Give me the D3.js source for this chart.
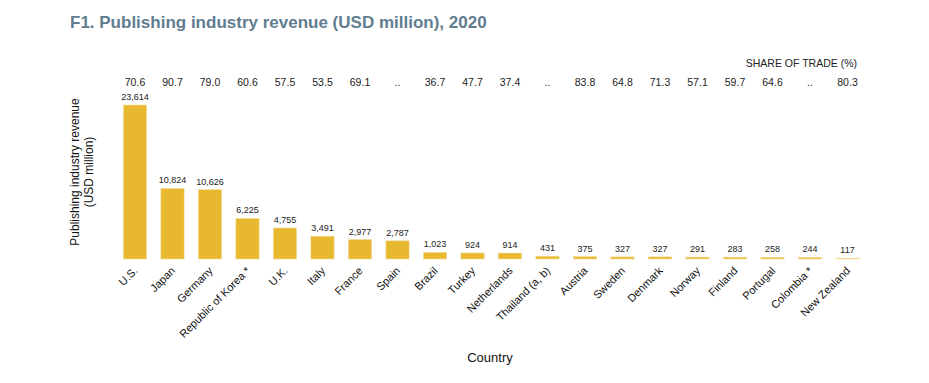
<!DOCTYPE html>
<html>
<head>
    <meta charset="utf-8">
    <title>Publishing industry revenue</title>
    <script src="https://d3js.org/d3.v7.min.js"></script>
    <style>
        body { margin: 0; background: #fff; font-family: "Liberation Sans", Arial, sans-serif; }
    </style>
</head>
<body>
    <div id="chart"></div>
    <script>
        var countries = ["U.S.", "Japan", "Germany", "Republic of Korea *", "U.K.", "Italy", "France", "Spain",
            "Brazil", "Turkey", "Netherlands", "Thailand (a, b)", "Austria", "Sweden", "Denmark", "Norway",
            "Finland", "Portugal", "Colombia *", "New Zealand"];
        var revenue = [23614, 10824, 10626, 6225, 4755, 3491, 2977, 2787, 1023, 924, 914, 431, 375, 327, 327,
            291, 283, 258, 244, 117];
        var shareOfTrade = ["70.6", "90.7", "79.0", "60.6", "57.5", "53.5", "69.1", "..", "36.7", "47.7", "37.4",
            "..", "83.8", "64.8", "71.3", "57.1", "59.7", "64.6", "..", "80.3"];

        var W = 929, H = 383;
        var baseY = 259, topY = 105;

        var svg = d3.select("#chart")
            .append("svg")
                .attr("width", W)
                .attr("height", H);

        svg.append("text")
            .attr("x", 70)
            .attr("y", 28)
            .style("font-family", "Liberation Sans, Arial, sans-serif")
            .style("font-weight", "bold")
            .style("font-size", "17px")
            .style("fill", "#617d8f")
            .text("F1. Publishing industry revenue (USD million), 2020");

        var x = d3.scaleBand()
            .domain(countries)
            .range([116.25, 866.25])
            .paddingInner(0.38)
            .paddingOuter(0.19);

        var y = d3.scaleLinear()
            .domain([0, d3.max(revenue)])
            .range([baseY, topY]);

        var data = countries.map(function(c, i) {
            return {country: c, value: revenue[i], share: shareOfTrade[i]};
        });

        svg.selectAll("rect.bar")
            .data(data)
            .enter()
            .append("rect")
                .attr("class", "bar")
                .attr("x", function(d) { return x(d.country); })
                .attr("y", function(d) { return y(d.value); })
                .attr("width", x.bandwidth())
                .attr("height", function(d) { return baseY - y(d.value); })
                .style("fill", "#e8b82e")
                .style("stroke", "#f3dc9c")
                .style("stroke-width", 0.6);

        svg.selectAll("text.value")
            .data(data)
            .enter()
            .append("text")
                .attr("class", "value")
                .attr("x", function(d) { return x(d.country) + x.bandwidth() / 2; })
                .attr("y", function(d) { return y(d.value) - 5; })
                .style("text-anchor", "middle")
                .style("font-size", "9px")
                .style("fill", "#222")
                .text(function(d) { return d3.format(",")(d.value); });

        svg.selectAll("text.share")
            .data(data)
            .enter()
            .append("text")
                .attr("class", "share")
                .attr("x", function(d) { return x(d.country) + x.bandwidth() / 2; })
                .attr("y", 86)
                .style("text-anchor", "middle")
                .style("font-size", "10.5px")
                .style("fill", "#222")
                .text(function(d) { return d.share; });

        svg.append("text")
            .attr("x", 857)
            .attr("y", 67)
            .style("text-anchor", "end")
            .style("font-size", "10.5px")
            .style("fill", "#222")
            .text("SHARE OF TRADE (%)");

        var xAxis = svg.append("g")
            .attr("transform", "translate(0," + baseY + ")")
            .call(d3.axisBottom(x).tickSize(0).tickPadding(0));
        xAxis.select(".domain").remove();
        xAxis.selectAll("text")
            .attr("transform", "translate(-2,7) rotate(-45)")
            .attr("dy", "0.7em")
            .style("text-anchor", "end")
            .style("font-family", "Liberation Sans, Arial, sans-serif")
            .style("font-size", "11px")
            .style("fill", "#111");

        var yl = svg.append("text")
            .attr("transform", "translate(79,172) rotate(-90)")
            .style("text-anchor", "middle")
            .style("font-size", "12px")
            .style("fill", "#111");
        yl.append("tspan").attr("x", 0).attr("dy", 0).text("Publishing industry revenue");
        yl.append("tspan").attr("x", 0).attr("dy", "1.15em").text("(USD million)");

        svg.append("text")
            .attr("x", 490)
            .attr("y", 362)
            .style("text-anchor", "middle")
            .style("font-size", "13px")
            .style("fill", "#111")
            .text("Country");
    </script>
</body>
</html>
